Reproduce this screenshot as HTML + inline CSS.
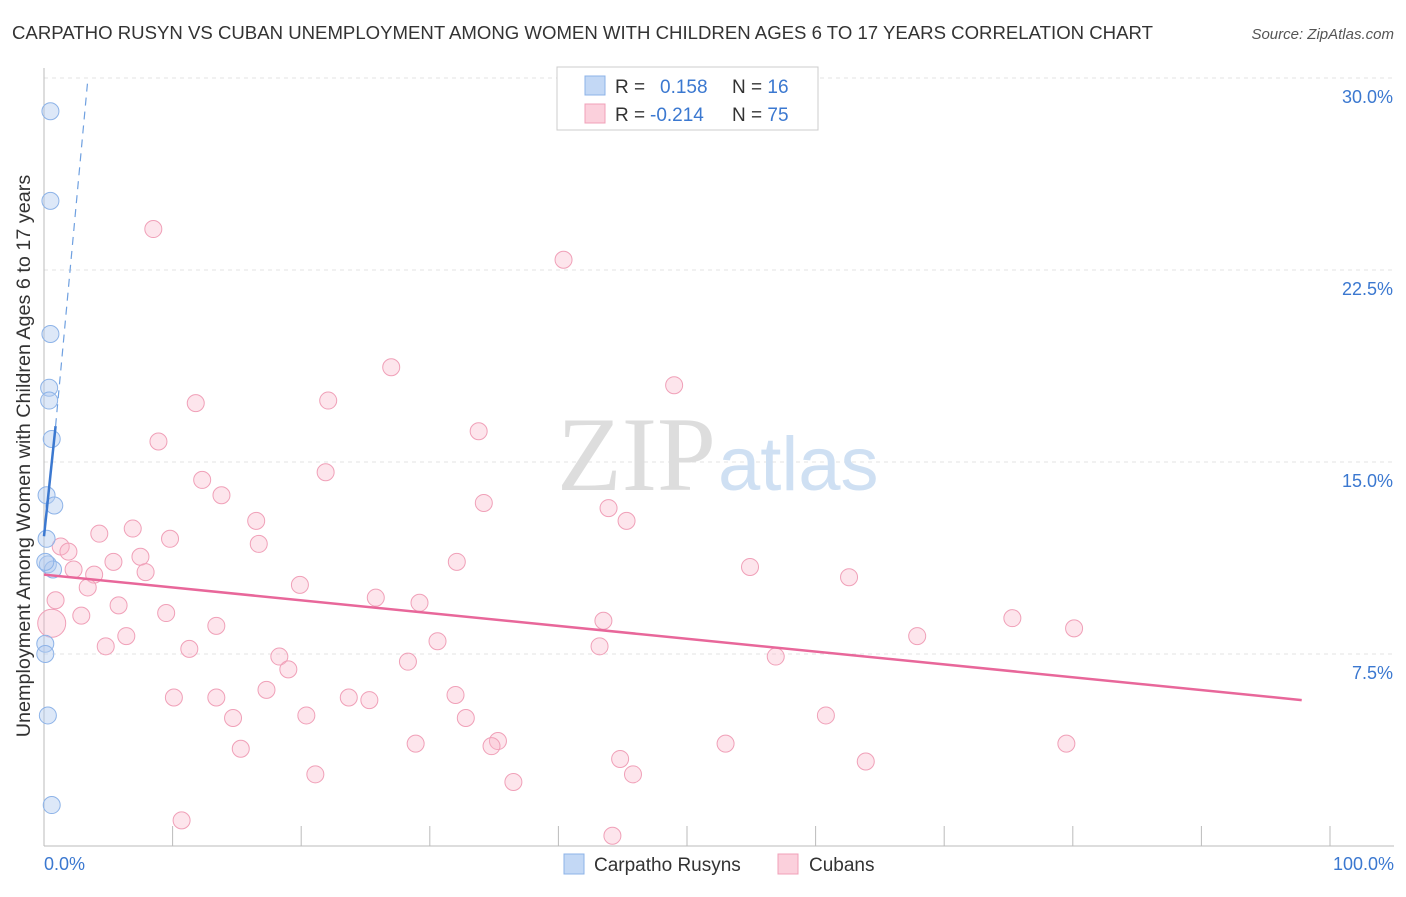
<!DOCTYPE html>
<html><head><meta charset="utf-8"><style>
body{margin:0;background:#fff;font-family:"Liberation Sans",sans-serif;}
</style></head><body>
<svg width="1406" height="892" viewBox="0 0 1406 892" xmlns="http://www.w3.org/2000/svg" font-family="Liberation Sans, sans-serif">
<text x="12" y="39" font-size="18.6" fill="#333">CARPATHO RUSYN VS CUBAN UNEMPLOYMENT AMONG WOMEN WITH CHILDREN AGES 6 TO 17 YEARS CORRELATION CHART</text>
<text x="1394" y="39" font-size="15" fill="#555" font-style="italic" text-anchor="end">Source: ZipAtlas.com</text>
<g id="grid"></g>
<text x="716" y="490" font-size="106" fill="#ddd" text-anchor="end" font-family="Liberation Serif, serif">ZIP</text>
<text x="718" y="490" font-size="76" fill="#cfe0f3">atlas</text>
<g id="axes"></g>
<g id="pts"></g>
<text x="30" y="456" font-size="19.8" fill="#333" text-anchor="middle" transform="rotate(-90 30 456)">Unemployment Among Women with Children Ages 6 to 17 years</text>
<text x="44" y="870" font-size="18" fill="#3b78d0">0.0%</text>
<text x="1394" y="870" font-size="18" fill="#3b78d0" text-anchor="end">100.0%</text>
<g>
<rect x="557" y="67" width="261" height="63" fill="#fff" stroke="#ccc"/>
<rect x="585" y="76" width="20" height="19" fill="#c3d8f5" stroke="#8db3e8"/>
<rect x="585" y="104" width="20" height="19" fill="#fbd0dc" stroke="#f0a0b8"/>
<text x="615" y="93" font-size="19" fill="#333">R = <tspan fill="#3b78d0" x="660">0.158</tspan><tspan x="732" fill="#333">N = </tspan><tspan fill="#3b78d0">16</tspan></text>
<text x="615" y="121" font-size="19" fill="#333">R = <tspan fill="#3b78d0" x="650">-0.214</tspan><tspan x="732" fill="#333">N = </tspan><tspan fill="#3b78d0">75</tspan></text>
</g>
<g>
<rect x="564" y="854" width="20" height="20" fill="#c3d8f5" stroke="#8db3e8"/>
<text x="594" y="871" font-size="19" fill="#333">Carpatho Rusyns</text>
<rect x="778" y="854" width="20" height="20" fill="#fbd0dc" stroke="#f0a0b8"/>
<text x="809" y="871" font-size="19" fill="#333">Cubans</text>
</g>
</svg>
<script>
const yTicks=[7.5,15,22.5,30];
const yTickLabels=["7.5%","15.0%","22.5%","30.0%"];
const xTicks=[0,10,20,30,40,50,60,70,80,90,100];
const rusynX=[0.5,0.5,0.5,0.4,0.4,0.6,0.2,0.8,0.2,0.3,0.7,0.1,0.1,0.3,0.6,0.1];
const rusynY=[28.7,25.2,20.0,17.9,17.4,15.9,13.7,13.3,12.0,11.0,10.8,7.9,7.5,5.1,1.6,11.1];
const cubanX=[8.5,40.4,27.0,49.0,11.8,22.1,8.9,33.8,21.9,12.3,13.8,34.2,43.9,45.3,16.5,6.9,4.3,9.8,16.7,1.3,1.9,7.5,5.4,32.1,54.9,2.3,7.9,3.9,62.6,3.4,19.9,25.8,0.9,29.2,5.8,9.5,2.9,43.5,75.3,0.6,13.4,80.1,6.4,67.9,30.6,4.8,43.2,11.3,18.3,56.9,28.3,19.0,17.3,32.0,10.1,13.4,23.7,25.3,14.7,20.4,32.8,60.8,28.9,53.0,79.5,35.3,34.8,15.3,44.8,63.9,21.1,45.8,36.5,10.7,44.2];
const cubanY=[24.1,22.9,18.7,18.0,17.3,17.4,15.8,16.2,14.6,14.3,13.7,13.4,13.2,12.7,12.7,12.4,12.2,12.0,11.8,11.7,11.5,11.3,11.1,11.1,10.9,10.8,10.7,10.6,10.5,10.1,10.2,9.7,9.6,9.5,9.4,9.1,9.0,8.8,8.9,8.7,8.6,8.5,8.2,8.2,8.0,7.8,7.8,7.7,7.4,7.4,7.2,6.9,6.1,5.9,5.8,5.8,5.8,5.7,5.0,5.1,5.0,5.1,4.0,4.0,4.0,4.1,3.9,3.8,3.4,3.3,2.8,2.8,2.5,1.0,0.4];
const cubanTrendX=[0,97.8], cubanTrendY=[10.6,5.7];
const rusynTrendX=[0,0.9], rusynTrendY=[12.1,16.4];
const rusynDashX=[0.9,3.4], rusynDashY=[16.4,29.9];
const X=v=>44+v*12.86, Y=v=>846-v*25.6;
const NS="http://www.w3.org/2000/svg";
function mk(tag,parent,attrs){const e=document.createElementNS(NS,tag);for(const k in attrs)e.setAttribute(k,attrs[k]);document.getElementById(parent).appendChild(e);return e;}
yTicks.forEach((t,i)=>{
 const l=mk('line','grid',{x1:44,x2:1394,y1:Y(t),y2:Y(t),stroke:'#e3e3e3','stroke-dasharray':'4,4'});
 
 
 const tx=mk('text','grid',{x:1393,y:Y(t)+25,'font-size':18,fill:'#3b78d0','text-anchor':'end'});
 tx.textContent=yTickLabels[i];
 
 
});
let a=mk('line','axes',{x1:44,x2:44,y1:68,y2:846,stroke:'#bbb'});


a=mk('line','axes',{x1:44,x2:1394,y1:846,y2:846,stroke:'#bbb'});


xTicks.forEach(t=>{
 const l=mk('line','axes',{x1:X(t),x2:X(t),y1:826,y2:846,stroke:'#bbb'});
 
 
});
cubanX.forEach((x,i)=>{
 const c=mk('circle','pts',{cx:X(x),cy:Y(cubanY[i]),r:i==39?14:8.5,fill:'rgba(249,180,200,0.35)',stroke:'#f0a0b8','stroke-width':1});
 
 
});
rusynX.forEach((x,i)=>{
 const c=mk('circle','pts',{cx:X(x),cy:Y(rusynY[i]),r:8.5,fill:'rgba(180,205,240,0.45)',stroke:'#8db3e8','stroke-width':1});
 
 
});
let t=mk('line','pts',{x1:X(cubanTrendX[0]),y1:Y(cubanTrendY[0]),x2:X(cubanTrendX[1]),y2:Y(cubanTrendY[1]),stroke:'#e8679a','stroke-width':2.5});


t=mk('line','pts',{x1:X(rusynTrendX[0]),y1:Y(rusynTrendY[0]),x2:X(rusynTrendX[1]),y2:Y(rusynTrendY[1]),stroke:'#3b78d0','stroke-width':2.5});


t=mk('line','pts',{x1:X(rusynDashX[0]),y1:Y(rusynDashY[0]),x2:X(rusynDashX[1]),y2:Y(rusynDashY[1]),stroke:'#6fa0e0','stroke-width':1.2,'stroke-dasharray':'8,6'});


</script>
</body></html>
